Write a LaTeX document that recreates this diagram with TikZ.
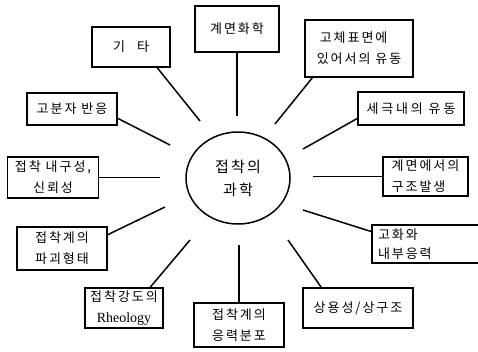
\documentclass[tikz,border=0pt]{standalone}
\usepackage{fontspec}
\setmainfont{Liberation Serif}
\newfontfamily\kr[LetterSpace=15]{Noto Sans CJK KR}
\usetikzlibrary{calc,shapes.geometric}
\tikzset{
  box/.style={draw, line width=1.5pt, inner sep=0pt,
    font=\kr\fontsize{13}{21}\selectfont, align=center},
  openbox/.style={inner xsep=6pt, inner ysep=0pt, text width=96pt,
    font=\kr\fontsize{13}{19}\selectfont, align=left},
  hub/.style={draw, ellipse, line width=1.5pt, inner sep=0pt,
    font=\kr\fontsize{15}{23}\selectfont, align=center},
  spoke/.style={line width=1.5pt},
  edge3/.style={line width=1.5pt, line cap=rect},
}
\begin{document}
\begin{tikzpicture}[x=1pt,y=-1pt]
\useasboundingbox (0,0) rectangle (478,351);

% hub
\node[hub, minimum width=104pt, minimum height=92pt] (c) at (238,178) {접착의\\과학};

% boxes
\node[box, minimum width=84pt, minimum height=46pt] (gm) at (237,29) {계면화학};
\node[box, minimum width=78pt, minimum height=40pt] (kita) at (131,47) {기\hspace{12pt}타};
\node[box, minimum width=108pt, minimum height=57pt, align=left] (gc) at (359,48.5) {\hspace{3pt}고체표면에\\있어서의 유동};
\node[box, minimum width=90pt, minimum height=32pt] (gb) at (72,109) {고분자 반응};
\node[box, minimum width=106pt, minimum height=33pt] (sg) at (411,108.5) {\addfontfeature{LetterSpace=22}세극내의 유동};
\node[box, minimum width=91pt, minimum height=41pt] (nk) at (53,177.5) {접착 내구성,\\신뢰성};
\node[box, minimum width=85pt, minimum height=39pt, align=left] (gj) at (425.5,176.5) {계면에서의\\구조발생};
\node[box, minimum width=90pt, minimum height=43pt] (pg) at (62,248.5) {접착계의\\파괴형태};
\node[openbox, minimum height=38pt] (gh) at (426,244) {고화와\\내부응력};
\draw[edge3] (gh.north east) -- (gh.north west) -- (gh.south west) -- (gh.south east);
\node[box, minimum width=78pt, minimum height=40pt] (rh) at (124,308) {접착강도의\\{\rmfamily\addfontfeature{LetterSpace=0}\fontsize{14}{21}\selectfont Rheology}};
\node[box, minimum width=90pt, minimum height=44pt] (ug) at (239,325) {접착계의\\응력분포};
\node[box, minimum width=110pt, minimum height=40pt] (sy) at (358,308) {상용성/상구조};

% inner ends of spokes
\coordinate (e1) at (237,116);
\coordinate (e2) at (200,121);
\coordinate (e3) at (275,124);
\coordinate (e4) at (170,145);
\coordinate (e5) at (160,177.5);
\coordinate (e6) at (165,207);
\coordinate (e7) at (190,240);
\coordinate (e8) at (239,245);
\coordinate (e9) at (288,240);
\coordinate (e10) at (303,210);
\coordinate (e11) at (313,176.5);
\coordinate (e12) at (303,149);

% spokes
\draw[spoke] (gm.south) -- (e1);
\draw[spoke] ($(kita.south west)!0.83!(kita.south east)$) -- (e2);
\draw[spoke] ($(gc.south west)!0.074!(gc.south east)$) -- (e3);
\draw[spoke] ($(gb.north east)!0.78!(gb.south east)$) -- (e4);
\draw[spoke] (nk.east) -- (e5);
\draw[spoke] ($(pg.north east)!0.19!(pg.south east)$) -- (e6);
\draw[spoke] ($(rh.north west)!0.83!(rh.north east)$) -- (e7);
\draw[spoke] (ug.north) -- (e8);
\draw[spoke] ($(sy.north west)!0.17!(sy.north east)$) -- (e9);
\draw[spoke] ($(gh.north west)!0.18!(gh.south west)$) -- (e10);
\draw[spoke] (gj.west) -- (e11);
\draw[spoke] ($(sg.north west)!0.79!(sg.south west)$) -- (e12);
\end{tikzpicture}
\end{document}
